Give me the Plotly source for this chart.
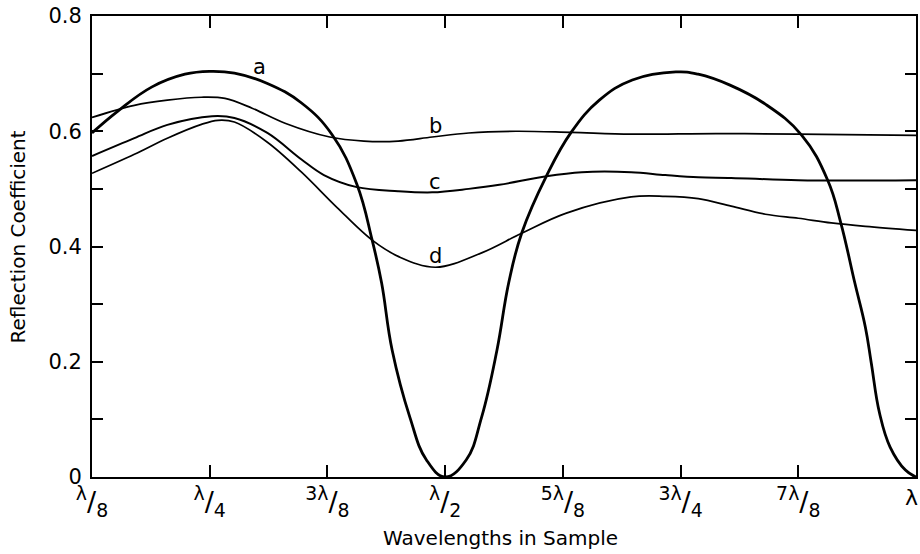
import plotly.graph_objects as go

# x in units of lambda/8
a_x = [1.00, 1.22, 1.51, 1.79, 2.00, 2.21, 2.49, 2.78, 3.04, 3.25, 3.38, 3.46, 3.55, 3.70, 3.84, 4.00,
       4.18, 4.31, 4.44, 4.54, 4.65, 4.86, 5.07, 5.31, 5.59, 5.96, 6.15, 6.42, 6.72, 7.03,
       7.25, 7.36, 7.48, 7.57, 7.62, 7.69, 7.78, 7.91, 8.00]
a_y = [0.597, 0.635, 0.677, 0.699, 0.704, 0.701, 0.683, 0.649, 0.594, 0.508, 0.411, 0.337, 0.220, 0.104, 0.030, 0.000,
       0.030, 0.104, 0.220, 0.337, 0.423, 0.522, 0.598, 0.654, 0.689, 0.703, 0.699, 0.680, 0.647, 0.593,
       0.515, 0.442, 0.337, 0.260, 0.198, 0.111, 0.052, 0.012, 0.000]

b_x = [1.00, 1.36, 1.64, 1.93, 2.13, 2.36, 2.64, 3.02, 3.31, 3.60, 3.89, 4.20, 4.60, 5.07, 5.58, 6.30, 7.00, 8.00]
b_y = [0.624, 0.645, 0.654, 0.659, 0.657, 0.640, 0.614, 0.590, 0.583, 0.583, 0.590, 0.597, 0.600, 0.598, 0.595, 0.596, 0.595, 0.593]

c_x = [1.00, 1.36, 1.64, 2.02, 2.21, 2.49, 2.78, 2.97, 3.25, 3.60, 3.89, 4.20, 4.46, 4.86, 5.16, 5.58, 5.87, 6.15, 6.43, 7.00, 8.00]
c_y = [0.557, 0.588, 0.611, 0.626, 0.623, 0.597, 0.551, 0.524, 0.503, 0.496, 0.494, 0.500, 0.507, 0.522, 0.529, 0.529, 0.524, 0.520, 0.519, 0.515, 0.515]

d_x = [1.00, 1.36, 1.64, 1.93, 2.07, 2.21, 2.49, 2.78, 3.08, 3.38, 3.61, 3.92, 4.31, 4.65, 5.03, 5.58, 5.87, 6.15, 6.43, 6.72,
       7.00, 7.28, 7.57, 8.00]
d_y = [0.527, 0.560, 0.588, 0.612, 0.619, 0.616, 0.581, 0.529, 0.468, 0.411, 0.382, 0.364, 0.389, 0.423, 0.458, 0.486, 0.487, 0.483, 0.470, 0.456,
       0.449, 0.441, 0.435, 0.428]

x_tickvals = [1, 2, 3, 4, 5, 6, 7, 8]
x_ticktext = ["<sup>λ</sup>/<sub>8</sub>", "<sup>λ</sup>/<sub>4</sub>", "<sup>3λ</sup>/<sub>8</sub>",
              "<sup>λ</sup>/<sub>2</sub>", "<sup>5λ</sup>/<sub>8</sub>", "<sup>3λ</sup>/<sub>4</sub>",
              "<sup>7λ</sup>/<sub>8</sub>", ""]
last_x_label = "λ"
y_tickvals = [0, 0.1, 0.2, 0.3, 0.4, 0.5, 0.6, 0.7, 0.8]
y_ticktext = ["0", "", "0.2", "", "0.4", "", "0.6", "", "0.8"]

labels = ["a", "b", "c", "d"]
label_x = [2.42, 3.92, 3.91, 3.92]
label_y = [0.712, 0.609, 0.512, 0.384]

FONT = "DejaVu Sans"

fig = go.Figure()
for xs, ys, w, sm in [(a_x, a_y, 2.8, 1.2), (b_x, b_y, 1.7, 1.0), (c_x, c_y, 2.0, 1.0), (d_x, d_y, 1.7, 1.0)]:
    fig.add_trace(go.Scatter(x=xs, y=ys, mode="lines", line=dict(color="black", width=w, shape="spline", smoothing=sm),
                             showlegend=False, hoverinfo="skip"))

for t, lx, ly in zip(labels, label_x, label_y):
    fig.add_annotation(x=lx, y=ly, text=t, showarrow=False, font=dict(family=FONT, size=21, color="black"),
                       xanchor="center", yanchor="middle")

fig.add_annotation(x=8, y=0, yref="y", xref="x", text=last_x_label, showarrow=False,
                   font=dict(family=FONT, size=22, color="black"), xanchor="right", yanchor="top", xshift=4, yshift=-6)

fig.add_annotation(xref="paper", yref="paper", x=0.496, y=-0.132, text="Wavelengths in Sample", showarrow=False,
                   font=dict(family=FONT, size=20, color="black"), xanchor="center", yanchor="middle")
fig.add_annotation(xref="paper", yref="paper", x=-0.0896, y=0.52, text="Reflection Coefficient", showarrow=False,
                   textangle=-90, font=dict(family=FONT, size=20, color="black"), xanchor="center", yanchor="middle")

fig.update_layout(
    width=920, height=554,
    margin=dict(l=92, r=2, t=16, b=77),
    paper_bgcolor="white", plot_bgcolor="white",
    xaxis=dict(range=[1, 8], tickvals=x_tickvals, ticktext=x_ticktext, ticks="inside", ticklen=12, tickwidth=1.5,
               tickcolor="black", showline=True, linecolor="black", linewidth=2, mirror="ticks", showgrid=False,
               zeroline=False, tickfont=dict(family=FONT, size=27, color="black")),
    yaxis=dict(range=[0, 0.8], tickvals=y_tickvals, ticktext=y_ticktext, ticks="inside", ticklen=11, tickwidth=1.5,
               tickcolor="black", showline=True, linecolor="black", linewidth=2, mirror="ticks", showgrid=False,
               zeroline=False, tickfont=dict(family=FONT, size=21, color="black"), ticklabelstandoff=4),
)

fig.write_html("out.html")
